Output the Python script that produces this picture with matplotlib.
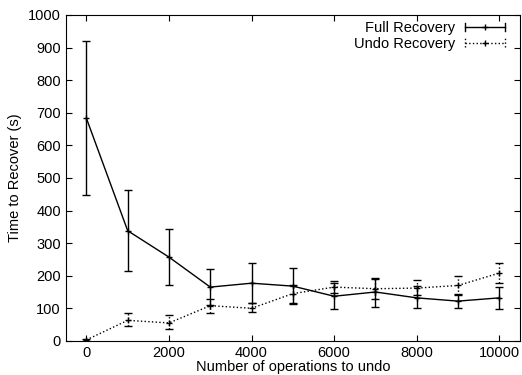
import matplotlib.pyplot as plt
from matplotlib.lines import Line2D
from matplotlib.legend_handler import HandlerBase

plt.rcParams['font.family'] = ['Liberation Sans', 'DejaVu Sans']

ops = [0, 1000, 2000, 3000, 4000, 5000, 6000, 7000, 8000, 9000, 10000]

full = [683, 338, 257, 165, 177, 168, 137, 150, 132, 122, 132]
full_lo = [447, 215, 172, 110, 115, 112, 98, 105, 100, 100, 98]
full_hi = [921, 462, 342, 220, 240, 225, 178, 192, 168, 145, 166]

undo = [3, 63, 55, 108, 100, 145, 165, 160, 162, 170, 208]
undo_lo = [0, 45, 35, 85, 90, 115, 148, 130, 140, 140, 179]
undo_hi = [6, 85, 78, 130, 115, 170, 185, 190, 188, 200, 238]


class CapHandler(HandlerBase):
    # gnuplot-like key sample: line with end caps and a point in the middle
    def create_artists(self, legend, orig_handle, xdescent, ydescent,
                       width, height, fontsize, trans):
        ls = orig_handle.get_linestyle()
        y = height / 2 - ydescent
        x0, x1 = -xdescent, -xdescent + width
        h = 3
        arts = [
            Line2D([x0, x1], [y, y], color='black', lw=1, ls=ls),
            Line2D([x0, x0], [y - h, y + h], color='black', lw=1, ls=ls),
            Line2D([x1, x1], [y - h, y + h], color='black', lw=1, ls=ls),
            Line2D([(x0 + x1) / 2], [y], color='black', marker='+', ms=4, ls='none'),
        ]
        for a in arts:
            a.set_transform(trans)
        return arts


fig = plt.figure(figsize=(5.22, 3.75), dpi=100)
ax = fig.add_axes([0.126, 0.091, 0.87, 0.869])

full_err = [[v - l for v, l in zip(full, full_lo)], [h - v for v, h in zip(full, full_hi)]]
undo_err = [[v - l for v, l in zip(undo, undo_lo)], [h - v for v, h in zip(undo, undo_hi)]]

ax.errorbar(ops, full, yerr=full_err, color='black', lw=1, marker='+', ms=4,
            capsize=3, elinewidth=1, capthick=1)
eb = ax.errorbar(ops, undo, yerr=undo_err, color='black', lw=1, ls=':', marker='+', ms=4,
                 capsize=3, elinewidth=1, capthick=1)
eb[2][0].set_linestyle(':')

ax.set_xlim(-500, 10500)
ax.set_ylim(0, 1000)
ax.set_xticks(range(0, 10001, 2000))
ax.set_yticks(range(0, 1001, 100))
ax.tick_params(direction='in', top=True, right=True, labelsize=10.5, length=4)
ax.set_xlabel('Number of operations to undo', fontsize=10.5, labelpad=0)
ax.set_ylabel('Time to Recover (s)', fontsize=10.5, labelpad=4)

handles = [Line2D([], [], ls='-'), Line2D([], [], ls=':')]
ax.legend(handles, ['Full Recovery', 'Undo Recovery'], handler_map={Line2D: CapHandler()},
          loc='upper right', bbox_to_anchor=(1 - 5 / 454, 1 + 4 / 326),
          frameon=False, fontsize=10.5, markerfirst=False,
          handlelength=2.7, handletextpad=0.7, borderaxespad=0.3, labelspacing=0.1)

fig.savefig('out.png', dpi=100)
